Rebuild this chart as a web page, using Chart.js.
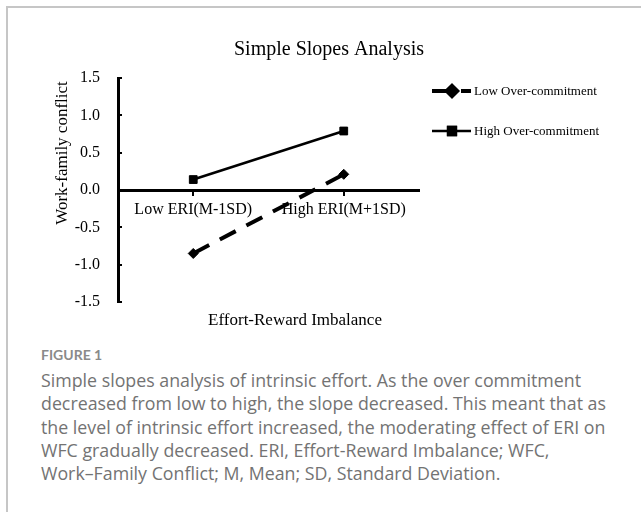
<!DOCTYPE html>
<html>
<head>
<meta charset="utf-8">
<script src="https://cdn.jsdelivr.net/npm/chart.js@4/dist/chart.umd.min.js"></script>
<style>
  body { margin: 0; background: #fff; width: 641px; height: 512px; overflow: hidden; position: relative; font-family: "Open Sans", Lato, sans-serif; }
  .card { position: absolute; left: 6px; top: 6px; width: 660px; height: 520px; border-top: 2px solid #c6c6c6; border-left: 2px solid #c6c6c6; }
  #slopes { position: absolute; left: 0; top: 0; }
  .caption { position: absolute; left: 41px; top: 344px; color: #737373; white-space: nowrap; }
  .caption .label { font-family: Lato, sans-serif; font-weight: 700; font-size: 14px; line-height: 22px; color: #8a8a8a; }
  .caption p { margin: 3px 0 0 0; font-size: 17.8px; font-weight: 400; line-height: 23.3px; }
</style>
</head>
<body>
<div class="card"></div>
<canvas id="slopes" width="641" height="340"></canvas>
<div class="caption">
  <div class="label">FIGURE 1</div>
  <p>Simple slopes analysis of intrinsic effort. As the over commitment<br>
  decreased from low to high, the slope decreased. This meant that as<br>
  the level of intrinsic effort increased, the moderating effect of ERI on<br>
  WFC gradually decreased. ERI, Effort-Reward Imbalance; WFC,<br>
  Work–Family Conflict; M, Mean; SD, Standard Deviation.</p>
</div>
<script>
const slopesCTX = document.getElementById('slopes').getContext('2d');

const chartTitle = 'Simple Slopes Analysis';
const xTitle = 'Effort-Reward Imbalance';
const yTitle = 'Work-family conflict';
const categorias = ['Low ERI(M-1SD)', 'High ERI(M+1SD)'];
const seriesNames = ['Low Over-commitment', 'High Over-commitment'];
const lowOverCommitment = [-0.85, 0.21];
const highOverCommitment = [0.14, 0.79];
const yMin = -1.5;
const yMax = 1.5;
const yStep = 0.5;

const serif = '"Liberation Serif", "Times New Roman", serif';

// titulo, nomes dos eixos e legenda desenhados a mao
const textos = {
    id: 'textos',
    afterDraw(chart) {
        const ctx = chart.ctx;
        ctx.save();
        ctx.fillStyle = '#000';
        ctx.textAlign = 'center';
        ctx.textBaseline = 'middle';
        ctx.font = '20px ' + serif;
        ctx.fillText(chartTitle, 329, 50);
        ctx.font = '17px ' + serif;
        ctx.fillText(xTitle, 295, 321);
        ctx.save();
        ctx.translate(63, 153);
        ctx.rotate(-Math.PI / 2);
        ctx.fillText(yTitle, 0, 0);
        ctx.restore();

        chart.data.datasets.forEach((ds, i) => {
            const y = 91 + i * 40;
            ctx.strokeStyle = '#000';
            ctx.lineWidth = ds.borderWidth;
            ctx.setLineDash(ds.borderDash ? [15, 14] : []);
            ctx.beginPath();
            ctx.moveTo(432, y);
            ctx.lineTo(471, y);
            ctx.stroke();
            ctx.setLineDash([]);
            ctx.fillStyle = '#000';
            Chart.helpers.drawPoint(ctx, {
                pointStyle: ds.pointStyle,
                radius: ds.pointRadius,
                borderWidth: 1,
                rotation: 0
            }, 452, y);
            ctx.fill();
            ctx.stroke();
            ctx.font = '13px ' + serif;
            ctx.textAlign = 'left';
            ctx.fillText(ds.label, 474, y + 1);
        });
        ctx.restore();
    }
};

new Chart(slopesCTX, {
    type: 'line',
    data: {
        labels: categorias,
        datasets: [{
            label: seriesNames[0],
            data: lowOverCommitment,
            borderColor: '#000',
            backgroundColor: '#000',
            borderWidth: 4,
            borderDash: [18, 12],
            pointStyle: 'rectRot',
            pointRadius: 5,
            pointBorderWidth: 1
        }, {
            label: seriesNames[1],
            data: highOverCommitment,
            borderColor: '#000',
            backgroundColor: '#000',
            borderWidth: 2.5,
            pointStyle: 'rect',
            pointRadius: 5.5,
            pointBorderWidth: 1
        }]
    },
    options: {
        responsive: false,
        animation: false,
        events: [],
        layout: {
            padding: { top: 78, left: 0, right: 222, bottom: 38 }
        },
        plugins: {
            legend: { display: false },
            title: { display: false },
            tooltip: { enabled: false }
        },
        scales: {
            x: {
                type: 'category',
                offset: true,
                position: { y: 0 },
                grid: { drawOnChartArea: false, drawTicks: true, tickLength: 4, offset: false, color: '#000', lineWidth: 2 },
                border: { color: '#000', width: 3 },
                ticks: { color: '#000', padding: 6, font: { family: serif, size: 16 }, maxRotation: 0 }
            },
            y: {
                position: 'left',
                min: yMin,
                max: yMax,
                afterFit: (s) => { s.width = 118; },
                grid: { drawOnChartArea: false, drawTicks: true, tickLength: -4, color: '#000', lineWidth: 2 },
                border: { color: '#000', width: 3 },
                ticks: {
                    stepSize: yStep,
                    color: '#000',
                    padding: 22,
                    font: { family: serif, size: 16 },
                    callback: (v) => Number(v).toFixed(1)
                }
            }
        }
    },
    plugins: [textos]
});
</script>
</body>
</html>
